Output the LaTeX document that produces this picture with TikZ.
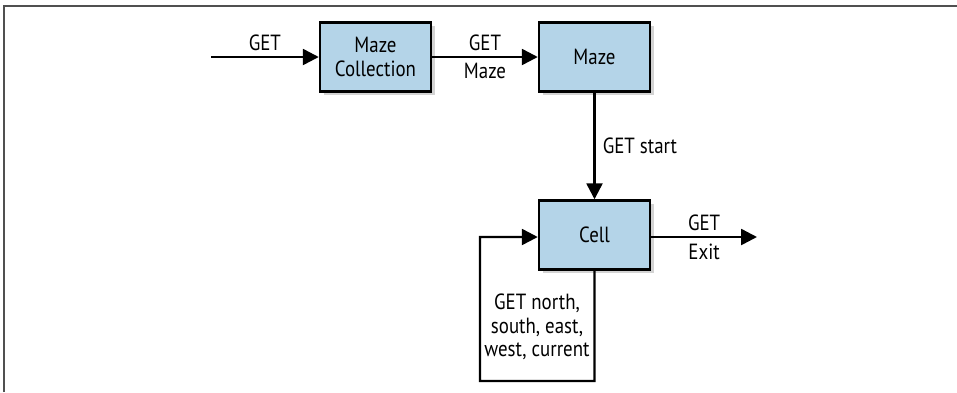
\documentclass[tikz,border=0pt]{standalone}
\usepackage{fontspec}
\setmainfont{PT Sans}[FakeStretch=0.86]
\usepackage{tikz}
\usetikzlibrary{arrows.meta, shadows}
\definecolor{boxblue}{RGB}{180,212,232}
\definecolor{framegray}{RGB}{80,80,80}
\tikzstyle{resource} = [rectangle, minimum width=2.22cm, minimum height=1.38cm, text centered, align=center, draw=black, line width=1.4pt, fill=boxblue, drop shadow={shadow xshift=2pt, shadow yshift=-2pt, opacity=0.35}]
\tikzstyle{arrow} = [line width=1.4pt, -{Triangle[length=9pt, width=9pt]}]
\tikzstyle{line} = [line width=1.4pt]

\begin{document}
\begin{tikzpicture}[node distance=4.38cm, font=\fontsize{12.5}{13.5}\selectfont]

\useasboundingbox (0,0) rectangle (19.14,-7.84);
\draw [framegray, line width=1.1pt] (0.08,-7.84) -- (0.08,-0.12) -- (19.14,-0.12);

\node (coll) [resource] at (7.51,-1.14) {Maze\\Collection};
\node (maze) [resource, right of=coll] {Maze};
\node (cell) [resource, below of=maze, yshift=0.82cm] {Cell};
\coordinate (entry) at (4.22,-1.14);
\coordinate (exit) at (15.14,-4.74);
\coordinate (loopa) at (11.89,-7.62);
\coordinate (loopb) at (9.6,-7.62);

\draw [arrow] (entry) -- node[anchor=south, inner sep=3pt] {GET} (coll);
\draw [arrow] (coll) -- node[anchor=south, inner sep=3pt] {GET} node[anchor=north, inner sep=3pt] {Maze} (maze);
\draw [arrow] (maze) -- node[anchor=west, inner sep=4pt] {GET start} (cell);
\draw [arrow] (cell.east |- exit) -- node[anchor=south, inner sep=3pt] {GET} node[anchor=north, inner sep=3pt] {Exit} (exit);
\draw [arrow] (cell.south) -- (loopa) -- (loopb) |- (cell.west |- exit);
\node (nav) [align=center] at (10.74,-6.54) {GET north,\\south, east,\\west, current};

\end{tikzpicture}
\end{document}
